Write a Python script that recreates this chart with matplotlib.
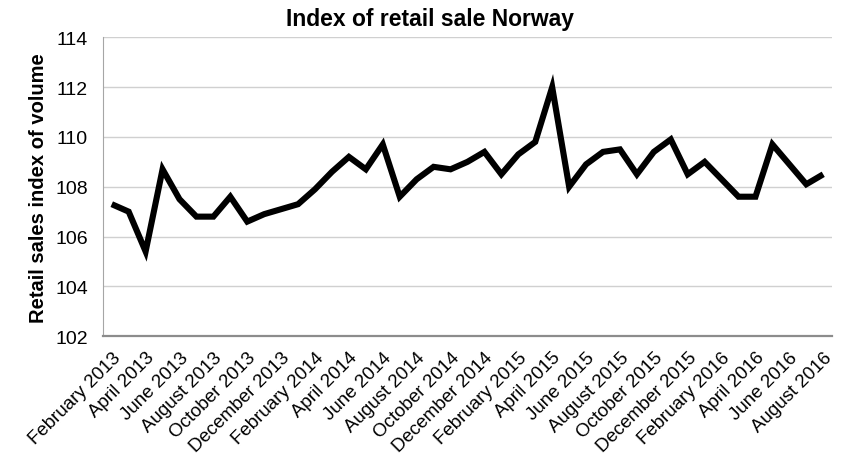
import matplotlib

matplotlib.use("Agg")
import matplotlib.pyplot as plt

plt.rcParams["font.family"] = ["Liberation Sans", "DejaVu Sans"]

# Monthly retail sales volume index, February 2013 to August 2016
months = [
    "February 2013", "March 2013", "April 2013", "May 2013", "June 2013", "July 2013",
    "August 2013", "September 2013", "October 2013", "November 2013", "December 2013",
    "January 2014", "February 2014", "March 2014", "April 2014", "May 2014", "June 2014",
    "July 2014", "August 2014", "September 2014", "October 2014", "November 2014",
    "December 2014", "January 2015", "February 2015", "March 2015", "April 2015",
    "May 2015", "June 2015", "July 2015", "August 2015", "September 2015",
    "October 2015", "November 2015", "December 2015", "January 2016", "February 2016",
    "March 2016", "April 2016", "May 2016", "June 2016", "July 2016", "August 2016",
]
index_values = [
    107.3, 107.0, 105.4, 108.7, 107.5, 106.8, 106.8, 107.6, 106.6, 106.9, 107.1,
    107.3, 107.9, 108.6, 109.2, 108.7, 109.7, 107.6, 108.3, 108.8, 108.7, 109.0,
    109.4, 108.5, 109.3, 109.8, 112.0, 108.0, 108.9, 109.4, 109.5, 108.5,
    109.4, 109.9, 108.5, 109.0, 108.3, 107.6, 107.6, 109.7, 108.9, 108.1, 108.5,
]
y_ticks = [102, 104, 106, 108, 110, 112, 114]

fig = plt.figure(figsize=(8.43, 4.6), dpi=100)
ax = fig.add_axes([0.1225, 0.267, 0.8641, 0.6497])

x = list(range(len(months)))
ax.plot(x, index_values, color="black", linewidth=4.4, solid_joinstyle="miter",
        solid_capstyle="butt", zorder=3)

ax.set_xlim(-0.5, len(months) - 0.5)
ax.set_ylim(102, 114)
ax.set_yticks(y_ticks)
ax.set_yticklabels([str(t) for t in y_ticks], fontsize=14)
ax.set_xticks(x[::2])
ax.set_xticklabels(months[::2], rotation=45, ha="right", rotation_mode="anchor",
                   fontsize=13.5)
ax.tick_params(axis="y", length=0, pad=11)
ax.tick_params(axis="x", length=0, pad=9)

ax.grid(axis="y", color="#d0d0d0", linewidth=1.0, zorder=0)
for side in ("top", "right"):
    ax.spines[side].set_visible(False)
ax.spines["left"].set_color("#a6a6a6")
ax.spines["bottom"].set_color("#8c8c8c")
ax.spines["bottom"].set_linewidth(1.6)

ax.set_ylabel("Retail sales index of volume", fontsize=14.5, fontweight="bold", labelpad=5)
fig.text(0.51, 0.957, "Index of retail sale Norway", ha="center", va="center",
         fontsize=16.5, fontweight="bold")

fig.savefig("out.png", dpi=100, facecolor="white")
